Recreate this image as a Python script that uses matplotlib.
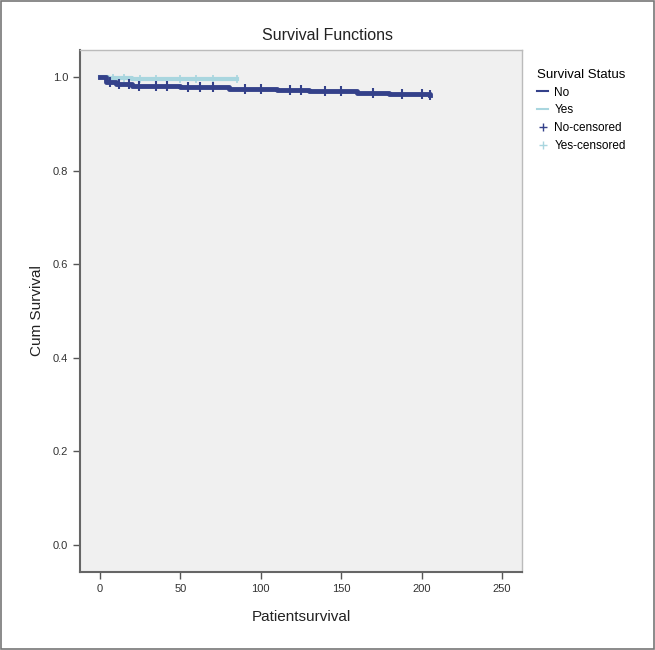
import numpy as np
import matplotlib
matplotlib.use("Agg")
import matplotlib.pyplot as plt
from matplotlib.lines import Line2D
from matplotlib.patches import Rectangle

plt.rcParams['font.family'] = ['Liberation Sans', 'DejaVu Sans']

# Kaplan-Meier step estimates per group (time, cumulative survival)
no_times = [0, 4, 10, 20, 30, 50, 80, 110, 130, 160, 180, 195, 205]
no_surv = [1.000, 0.990, 0.985, 0.982, 0.980, 0.978, 0.975, 0.972, 0.970, 0.967, 0.965, 0.963, 0.962]
yes_times = [0, 5, 20, 45, 85]
yes_surv = [1.000, 0.998, 0.997, 0.996, 0.996]

# censored observation times per group
no_censored = [6, 12, 18, 24, 35, 42, 55, 62, 70, 90, 100, 118, 125, 140, 150, 170, 188, 200, 205]
yes_censored = [8, 15, 25, 35, 50, 60, 70, 85]

x_ticks = [0, 50, 100, 150, 200, 250]
y_ticks = [0.0, 0.2, 0.4, 0.6, 0.8, 1.0]

group_labels = ["No", "Yes", "No-censored", "Yes-censored"]
col_no = "#34418a"
col_yes = "#a9d6df"


def surv_at(times, surv, t):
    idx = np.searchsorted(times, t, side="right") - 1
    return np.asarray(surv)[idx]


fig = plt.figure(figsize=(6.55, 6.50), dpi=100)
fig.patches.append(Rectangle((0.002, 0.002), 0.996, 0.996, transform=fig.transFigure,
                             fill=False, edgecolor="#777777", linewidth=1.2))

ax = fig.add_axes([80 / 655, 1 - 572 / 650, (522 - 80) / 655, (572 - 50) / 650])
ax.set_facecolor("#f0f0f0")

ax.step(yes_times, yes_surv, where="post", color=col_yes, linewidth=3.0, zorder=3)
ax.plot(yes_censored, surv_at(yes_times, yes_surv, yes_censored), linestyle="none",
        marker="|", markersize=6, markeredgewidth=1.2, color=col_yes, zorder=3)
ax.step(no_times, no_surv, where="post", color=col_no, linewidth=3.5, zorder=4)
ax.plot(no_censored, surv_at(no_times, no_surv, no_censored), linestyle="none",
        marker="|", markersize=7, markeredgewidth=1.5, color=col_no, zorder=4)

ax.set_xlim(-12.4, 262.4)
ax.set_ylim(-0.058, 1.058)
ax.set_xticks(x_ticks)
ax.set_xticklabels([str(v) for v in x_ticks])
ax.set_yticks(y_ticks)
ax.set_yticklabels([f"{v:.1f}" for v in y_ticks])
ax.tick_params(direction="out", length=5, width=1, colors="#555555", labelsize=8,
               labelcolor="#333333")

for side in ("top", "right"):
    ax.spines[side].set_color("#bbbbbb")
    ax.spines[side].set_linewidth(1.0)
for side in ("left", "bottom"):
    ax.spines[side].set_color("#666666")
    ax.spines[side].set_linewidth(1.5)

ax.set_xlabel("Patientsurvival", fontsize=11, color="#222222", labelpad=12)
ax.set_ylabel("Cum Survival", fontsize=11, color="#222222", labelpad=6)
fig.text(327 / 655, 1 - 36 / 650, "Survival Functions", ha="center", va="center",
         fontsize=11.5, color="#222222")

handles = [
    Line2D([], [], color=col_no, linewidth=1.5),
    Line2D([], [], color=col_yes, linewidth=1.5),
    Line2D([], [], color=col_no, linestyle="none", marker="+", markersize=6),
    Line2D([], [], color=col_yes, linestyle="none", marker="+", markersize=6),
]
leg = fig.legend(handles, group_labels, title="Survival Status",
                 loc="upper left", bbox_to_anchor=(526 / 655, 1 - 58 / 650),
                 frameon=False, fontsize=8.5, title_fontsize=9.5, handlelength=1.0,
                 handletextpad=0.5, labelspacing=0.5, alignment="left")

fig.savefig("out.png", dpi=100)
